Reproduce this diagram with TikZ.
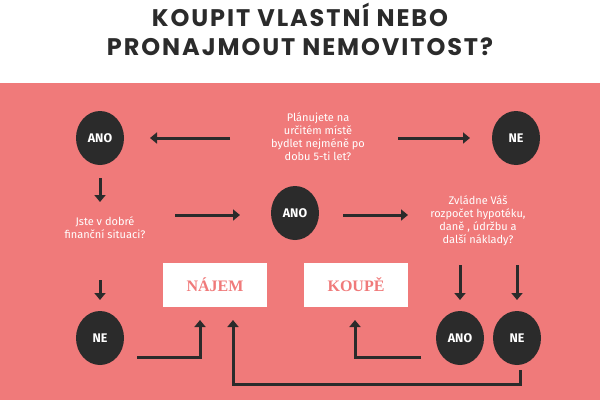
\documentclass[tikz,border=0pt]{standalone}
\usepackage{fontspec}
\setmainfont{Fira Sans}
\newfontfamily\titlefont[LetterSpace=8]{Poppins Bold}
\newfontfamily\boxfont{Liberation Serif}
\usepackage{tikz}
\definecolor{salmon}{HTML}{F07A7A}
\definecolor{dark}{HTML}{2B2B2B}
\tikzset{
  answer/.style={ellipse,fill=dark,minimum width=48pt,minimum height=54pt,
    text=white,font=\bfseries\fontsize{12.5}{12.5}\selectfont},
  question/.style={align=center,text=white,font=\fontsize{11}{13}\selectfont},
  result/.style={fill=white,minimum width=104pt,minimum height=44pt,
    text=salmon,font=\boxfont\bfseries\fontsize{16}{16}\selectfont},
  flow/.style={dark,line width=3pt,-{Triangle[length=7pt,width=11pt]}}
}
\usetikzlibrary{shapes.geometric,arrows.meta}
\begin{document}
\begin{tikzpicture}[x=1pt,y=-1pt]
    \useasboundingbox (0,0) rectangle (600,400);
    \fill[salmon] (0,83) rectangle (600,400);
    \node[dark,font=\titlefont\fontsize{24}{29}\selectfont,align=center] (title) at (300,29)
        {KOUPIT VLASTNÍ NEBO\\PRONAJMOUT NEMOVITOST?};
    % questions
    \node[question] (q1) at (318,137) {Plánujete na\\určitém místě\\bydlet nejméně po\\dobu 5-ti let?};
    \node[question] (q2) at (105,228) {Jste v dobré\\finanční situaci?};
    \node[question] (q3) at (478,221) {Zvládne Váš\\rozpočet hypotéku,\\daně , údržbu a\\další náklady?};
    % answers
    \node[answer] (ano1) at (100,138) {ANO};
    \node[answer] (ne1) at (516,138) {NE};
    \node[answer] (ano2) at (295,213) {ANO};
    \node[answer] (ne2) at (100,338) {NE};
    \node[answer] (ano3) at (460,338) {ANO};
    \node[answer] (ne3) at (517,338) {NE};
    % results
    \node[result] (najem) at (215,285) {NÁJEM};
    \node[result] (koupe) at (356,285) {KOUPĚ};
    % arrows
    \draw[flow] (230,138) -- (150,138);
    \draw[flow] (398,138) -- (470,138);
    \draw[flow] (100,178) -- (100,202);
    \draw[flow] (175,215) -- (240,215);
    \draw[flow] (343,215) -- (408,215);
    \draw[flow] (100,280) -- (100,300);
    \draw[flow] (460,265) -- (460,300);
    \draw[flow] (517,265) -- (517,300);
    \draw[flow] (137,357) -- (200,357) -- (200,320);
    \draw[flow] (421,357) -- (355,357) -- (355,320);
    \draw[flow] (520,370) -- (520,384) -- (233,384) -- (233,320);
\end{tikzpicture}
\end{document}
